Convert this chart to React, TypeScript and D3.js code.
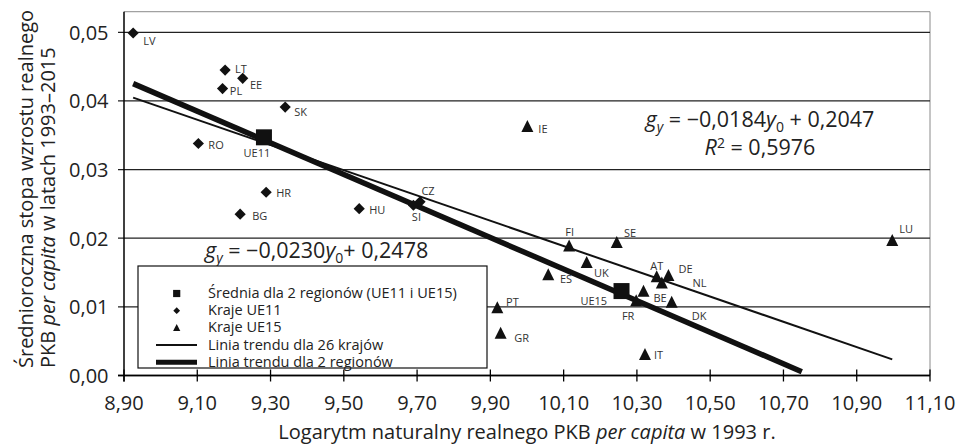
import React from "react";
import * as d3 from "d3";

// ---------- data ----------
const ue11Codes = ["LV", "LT", "EE", "PL", "SK", "RO", "HR", "BG", "HU", "CZ", "SI"];
const ue11LnGdp = [8.925, 9.176, 9.224, 9.169, 9.34, 9.103, 9.288, 9.217, 9.542, 9.708, 9.69];
const ue11Growth = [0.0499, 0.0445, 0.0433, 0.0418, 0.0391, 0.0338, 0.0267, 0.0235, 0.0243, 0.0253, 0.0248];

const ue15Codes = ["IE", "FI", "SE", "UK", "ES", "AT", "DE", "NL", "BE", "FR", "DK", "IT", "PT", "GR", "LU"];
const ue15LnGdp = [10.001, 10.115, 10.245, 10.163, 10.058, 10.354, 10.386, 10.368, 10.318, 10.298, 10.395, 10.322, 9.919, 9.928, 10.997];
const ue15Growth = [0.0362, 0.0188, 0.0193, 0.0164, 0.0146, 0.0143, 0.0145, 0.0134, 0.0122, 0.0108, 0.0106, 0.003, 0.0098, 0.0061, 0.0196];

const regionCodes = ["UE11", "UE15"];
const regionLnGdp = [9.282, 10.258];
const regionGrowth = [0.0347, 0.0123];

// trend lines: g = slope * y0 + intercept
const trend26 = { slope: -0.0184, intercept: 0.2047 };
const trend2 = { slope: -0.023, intercept: 0.2478 };
const trend2End = 10.75;

const xTickValues = [8.9, 9.1, 9.3, 9.5, 9.7, 9.9, 10.1, 10.3, 10.5, 10.7, 10.9, 11.1];
const yTickValues = [0, 0.01, 0.02, 0.03, 0.04, 0.05];

const legendLabels = [
  "Średnia dla 2 regionów (UE11 i UE15)",
  "Kraje UE11",
  "Kraje UE15",
  "Linia trendu dla 26 krajów",
  "Linia trendu dla 2 regionów",
];

// ---------- styling ----------
const W = 962;
const H = 445;
const FONT = "'Open Sans', 'DejaVu Sans', sans-serif";
const INK = "#111";

// label placement: [dx, dy, anchor]
const labelPos: Record<string, [number, number, string]> = {
  LV: [10, 7.4, "start"],
  LT: [10, -1.7, "start"],
  EE: [7.3, 6.7, "start"],
  PL: [7.3, 1.7, "start"],
  SK: [9, 4.7, "start"],
  RO: [10, 0.6, "start"],
  HR: [10, 0, "start"],
  BG: [12, 1, "start"],
  HU: [10, 0.6, "start"],
  CZ: [8, -11.7, "middle"],
  SI: [3, 11.7, "middle"],
  IE: [11, 1, "start"],
  FI: [0.5, -15, "middle"],
  SE: [7.3, -11, "start"],
  UK: [7.3, 10, "start"],
  ES: [11.7, 3, "start"],
  AT: [0, -12, "middle"],
  DE: [10, -7.7, "start"],
  NL: [30.6, -1, "start"],
  BE: [10, 5.6, "start"],
  FR: [-8, 14, "middle"],
  DK: [20, 13, "start"],
  IT: [9, 0, "start"],
  PT: [8.7, -6.6, "start"],
  GR: [13.6, 4, "start"],
  LU: [7, -12, "start"],
  UE11: [-7, 15.4, "middle"],
  UE15: [-14.4, 9, "end"],
};

const fmt = (v: number, d: number) => v.toFixed(d).replace(".", ",");

const diamond = (r: number) => `M0,${-r}L${r},0L0,${r}L${-r},0Z`;
const triangle = (w: number, up: number, down: number) => `M0,${-up}L${w},${down}L${-w},${down}Z`;
const square = (h: number) => `M${-h},${-h}H${h}V${h}H${-h}Z`;

export default function App() {
  const x = d3.scaleLinear().domain([8.9, 11.1]).range([124, 930]);
  const y = d3.scaleLinear().domain([0, 0.05]).range([375.5, 32.3]);
  const yTop = y(0.053);
  const left = x.range()[0];
  const right = x.range()[1];
  const bottom = y(0);

  const allX = [...ue11LnGdp, ...ue15LnGdp];
  const [xMin, xMax] = d3.extent(allX) as [number, number];

  const trendPath = (t: { slope: number; intercept: number }, a: number, b: number) =>
    d3
      .line<number>()
      .x((v) => x(v))
      .y((v) => y(t.slope * v + t.intercept))([a, b]) as string;

  const pointLabel = (code: string, px: number, py: number) => {
    const p = labelPos[code];
    return (
      <text
        key={"l" + code}
        x={px + p[0]}
        y={py + p[1]}
        textAnchor={p[2] as any}
        dominantBaseline="central"
        fontSize={11}
        fill="#333"
      >
        {code}
      </text>
    );
  };

  // legend geometry
  const lg = { x0: 138, x1: 487, y0: 266, y1: 368, mx: 176.7, lineX0: 156, lineX1: 197, tx: 208, firstY: 292.5, step: 17.2 };

  const EQ = 21.5;
  const SUB = 14;

  return (
    <div style={{ position: "absolute", left: 0, top: 0, width: W, height: H, background: "#fff" }}>
      <svg width={W} height={H} style={{ display: "block", fontFamily: FONT }}>
        <rect width={W} height={H} fill="#fff" />
        {/* frame */}
        <path d={`M${left},${yTop}H${right}V${bottom}`} fill="none" stroke="#8a8a8a" strokeWidth={1} />
        {/* grid lines */}
        {yTickValues.map((v) => (
          <line key={"g" + v} x1={left - 6} x2={right} y1={y(v)} y2={y(v)} stroke="#222" strokeWidth={1.3} />
        ))}
        {/* axes */}
        <line x1={left} x2={left} y1={yTop} y2={bottom + 6} stroke="#000" strokeWidth={1.5} />
        <line x1={left - 6} x2={right} y1={bottom} y2={bottom} stroke="#000" strokeWidth={1.5} />
        {xTickValues.map((v) => (
          <line key={"t" + v} x1={x(v)} x2={x(v)} y1={bottom - 6} y2={bottom + 6} stroke="#000" strokeWidth={1.3} />
        ))}
        {/* tick labels */}
        {xTickValues.map((v) => (
          <text key={"xl" + v} x={x(v)} y={410} textAnchor="middle" fontSize={20} fill="#222">
            {fmt(v, 2)}
          </text>
        ))}
        {yTickValues.map((v) => (
          <text key={"yl" + v} x={108.5} y={y(v)} textAnchor="end" dominantBaseline="central" fontSize={20} fill="#222">
            {fmt(v, 2)}
          </text>
        ))}
        {/* axis titles */}
        <text x={(left + right) / 2} y={438.5} textAnchor="middle" fontSize={20} fill="#222">
          Logarytm naturalny realnego PKB <tspan fontStyle="italic">per capita</tspan> w 1993 r.
        </text>
        <text transform="translate(33,368) rotate(-90)" fontSize={20} fill="#222">
          Średnioroczna stopa wzrostu realnego
        </text>
        <text transform="translate(55,368) rotate(-90)" fontSize={20} fill="#222">
          PKB <tspan fontStyle="italic">per capita</tspan> w latach 1993–2015
        </text>

        {/* trend lines */}
        <path d={trendPath(trend26, xMin, xMax)} stroke="#111" strokeWidth={2} fill="none" />
        <path d={trendPath(trend2, xMin, trend2End)} stroke="#111" strokeWidth={5.5} fill="none" />

        {/* UE11 diamonds */}
        {ue11Codes.map((c, i) => (
          <path key={c} d={diamond(5.6)} transform={`translate(${x(ue11LnGdp[i])},${y(ue11Growth[i])})`} fill={INK} />
        ))}
        {ue11Codes.map((c, i) => pointLabel(c, x(ue11LnGdp[i]), y(ue11Growth[i])))}

        {/* UE15 triangles */}
        {ue15Codes.map((c, i) => (
          <path key={c} d={triangle(6, 7, 5)} transform={`translate(${x(ue15LnGdp[i])},${y(ue15Growth[i])})`} fill={INK} />
        ))}
        {ue15Codes.map((c, i) => pointLabel(c, x(ue15LnGdp[i]), y(ue15Growth[i])))}

        {/* region means */}
        {regionCodes.map((c, i) => (
          <path key={c} d={square(8)} transform={`translate(${x(regionLnGdp[i])},${y(regionGrowth[i])})`} fill={INK} />
        ))}
        {regionCodes.map((c, i) => pointLabel(c, x(regionLnGdp[i]), y(regionGrowth[i])))}

        {/* equations */}
        <text x={760} y={126.7} textAnchor="middle" fontSize={EQ} fill="#222">
          <tspan fontStyle="italic">g</tspan>
          <tspan fontStyle="italic" fontSize={SUB} dy={5}>y</tspan>
          <tspan dy={-5}> = −0,0184</tspan>
          <tspan fontStyle="italic">y</tspan>
          <tspan fontSize={SUB} dy={5}>0</tspan>
          <tspan dy={-5}> + 0,2047</tspan>
        </text>
        <text x={760} y={155} textAnchor="middle" fontSize={EQ} fill="#222">
          <tspan fontStyle="italic">R</tspan>
          <tspan fontSize={SUB} dy={-7}>2</tspan>
          <tspan dy={7}> = 0,5976</tspan>
        </text>
        <text x={205} y={258} fontSize={EQ} fill="#222">
          <tspan fontStyle="italic">g</tspan>
          <tspan fontStyle="italic" fontSize={SUB} dy={5}>y</tspan>
          <tspan dy={-5}> = −0,0230</tspan>
          <tspan fontStyle="italic">y</tspan>
          <tspan fontSize={SUB} dy={5}>0</tspan>
          <tspan dy={-5}>+ 0,2478</tspan>
        </text>

        {/* legend */}
        <rect x={lg.x0} y={lg.y0} width={lg.x1 - lg.x0} height={lg.y1 - lg.y0} fill="#fff" stroke="#111" strokeWidth={1.2} />
        {legendLabels.map((t, i) => {
          const cy = lg.firstY + i * lg.step;
          let mark: React.ReactNode = null;
          if (i === 0) mark = <path d={square(3.6)} transform={`translate(${lg.mx},${cy + 1})`} fill={INK} />;
          if (i === 1) mark = <path d={diamond(3.4)} transform={`translate(${lg.mx},${cy + 1})`} fill={INK} />;
          if (i === 2) mark = <path d={triangle(3.6, 4, 3)} transform={`translate(${lg.mx},${cy + 1})`} fill={INK} />;
          if (i === 3) mark = <line x1={lg.lineX0} x2={lg.lineX1} y1={cy + 1} y2={cy + 1} stroke={INK} strokeWidth={2} />;
          if (i === 4) mark = <line x1={lg.lineX0} x2={lg.lineX1} y1={cy + 1} y2={cy + 1} stroke={INK} strokeWidth={5} />;
          return (
            <g key={"lg" + i}>
              {mark}
              <text x={lg.tx} y={cy} dominantBaseline="central" fontSize={14.5} fill="#222">
                {t}
              </text>
            </g>
          );
        })}
      </svg>
    </div>
  );
}
